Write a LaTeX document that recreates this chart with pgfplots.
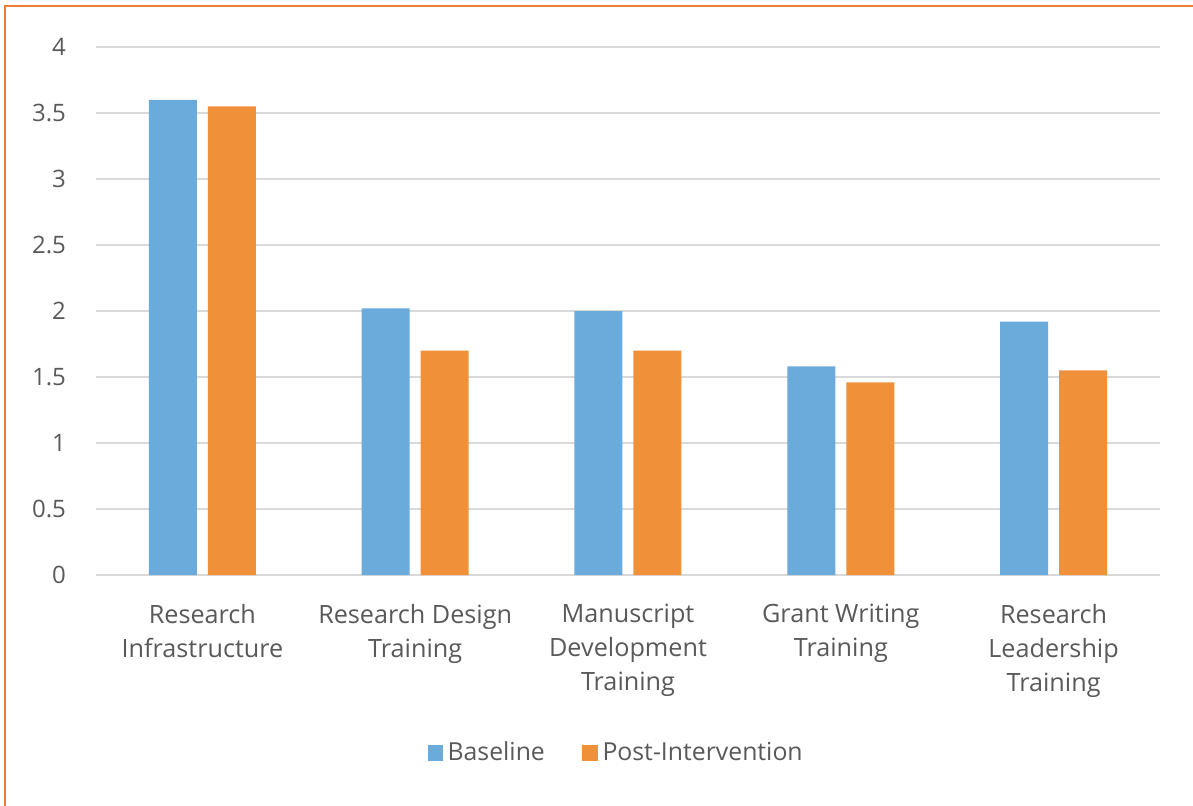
\documentclass[border=0pt]{standalone}
\usepackage{fontspec}
\setmainfont{Open Sans}
\usepackage{pgfplots}
\pgfplotsset{compat=1.18}
\definecolor{cblue}{RGB}{107,171,219}
\definecolor{corange}{RGB}{240,145,58}
\definecolor{ctext}{RGB}{89,89,89}
\definecolor{cgrid}{RGB}{217,217,217}
\definecolor{cframe}{RGB}{237,125,49}
\begin{document}
\begin{tikzpicture}
\path[use as bounding box] (-48bp,-115.5bp) rectangle (548.5bp,287.5bp);
\draw[cframe, line width=1.2bp] (-45.5bp,-116bp) |- (549bp,284.5bp);
\begin{axis}[
  at={(0,0)}, anchor=south west,
  scale only axis, width=532bp, height=264bp,
  ymin=0, ymax=4, ytick={0,0.5,...,4},
  xmin=-0.5, xmax=4.5, xtick={0,1,2,3,4},
  xticklabels={Research\\Infrastructure, Research Design\\Training, Manuscript\\Development\\Training, Grant Writing\\Training, Research\\Leadership\\Training},
  ybar=5.5bp, bar width=24bp,
  axis line style={draw=none},
  major tick length=0pt,
  ymajorgrids, grid style={cgrid, line width=0.8bp},
  tick label style={font=\fontsize{12bp}{16.5bp}\selectfont, text=ctext},
  xticklabel style={align=center, yshift=-11bp, font=\fontsize{12.6bp}{17bp}\selectfont},
  yticklabel style={xshift=-11.5bp, /pgf/number format/fixed, /pgf/number format/assume math mode=true},
  legend style={at={(0.49,-0.337)}, anchor=center, legend columns=-1, draw=none,
    font=\fontsize{12.4bp}{14bp}\selectfont, text=ctext,
    nodes={inner xsep=2.25bp},
    /tikz/every even column/.append style={column sep=16.5bp}},
  legend image code/.code={\fill[#1] (0bp,-3.8bp) rectangle (7.8bp,3.8bp);},
]
\addplot[fill=cblue, draw=none] coordinates {(0,3.60) (1,2.02) (2,2.00) (3,1.58) (4,1.92)};
\addplot[fill=corange, draw=none] coordinates {(0,3.55) (1,1.70) (2,1.70) (3,1.46) (4,1.55)};
\legend{Baseline, Post-Intervention}
\end{axis}
\end{tikzpicture}
\end{document}
